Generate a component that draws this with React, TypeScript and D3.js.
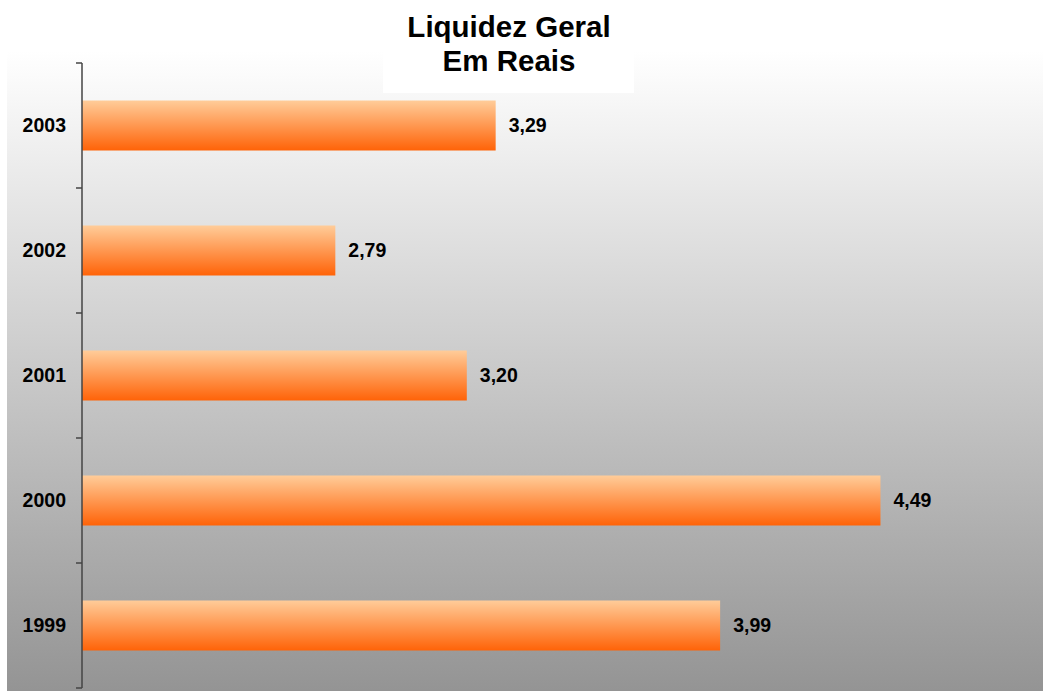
import React from "react";
import * as d3 from "d3";

const categories = ["2003", "2002", "2001", "2000", "1999"];
const values = [3.29, 2.79, 3.2, 4.49, 3.99];
const valueLabels = ["3,29", "2,79", "3,20", "4,49", "3,99"];
const titleLines = ["Liquidez Geral", "Em Reais"];

const W = 1043;
const H = 691;

export default function App() {
  const plot = { x: 7, y: 51, w: W - 7, h: H - 51 };
  const axisX = 82;
  const x = d3.scaleLinear().domain([2, 5]).range([axisX, 1044]);
  const y = d3.scaleBand().domain(categories).range([63, 688]).paddingInner(0.6).paddingOuter(0.3);
  const bandStep = y.step();
  const tickYs = d3.range(categories.length + 1).map((i) => 63 + i * bandStep);
  const font = "'Liberation Sans', Arial, sans-serif";

  return (
    <svg
      width={W}
      height={H}
      style={{ position: "absolute", left: 0, top: 0, display: "block" }}
      fontFamily={font}
    >
      <defs>
        <linearGradient id="bg" x1="0" y1="0" x2="0" y2="1">
          <stop offset="0%" stopColor="#ffffff" />
          <stop offset="100%" stopColor="#949494" />
        </linearGradient>
        <linearGradient id="bar" x1="0" y1="0" x2="0" y2="1">
          <stop offset="0%" stopColor="#ffcc99" />
          <stop offset="100%" stopColor="#ff6308" />
        </linearGradient>
      </defs>
      <rect x={0} y={0} width={W} height={H} fill="#ffffff" />
      <rect x={plot.x} y={plot.y} width={plot.w} height={plot.h} fill="url(#bg)" />
      <rect x={383} y={0} width={251} height={93} fill="#ffffff" />
      {titleLines.map((t, i) => (
        <text
          key={t}
          x={509}
          y={37 + i * 34}
          textAnchor="middle"
          fontSize={29.5}
          fontWeight="bold"
          fill="#000"
        >
          {t}
        </text>
      ))}
      {categories.map((c, i) => {
        const by = y(c)!;
        const bh = y.bandwidth();
        const xe = x(values[i]);
        return (
          <g key={c}>
            <rect x={axisX} y={by} width={xe - axisX} height={bh} fill="url(#bar)" />
            <text
              x={xe + 13}
              y={by + bh / 2}
              dy="0.35em"
              fontSize={19.5}
              fontWeight="bold"
              fill="#000"
            >
              {valueLabels[i]}
            </text>
            <text
              x={66}
              y={by + bh / 2}
              dy="0.35em"
              textAnchor="end"
              fontSize={19.5}
              fontWeight="bold"
              fill="#000"
            >
              {c}
            </text>
          </g>
        );
      })}
      <line x1={axisX} x2={axisX} y1={tickYs[0]} y2={tickYs[tickYs.length - 1]} stroke="#444" strokeWidth={1.5} />
      {tickYs.map((ty, i) => (
        <line key={i} x1={axisX - 6} x2={axisX} y1={ty} y2={ty} stroke="#444" strokeWidth={1.5} />
      ))}
    </svg>
  );
}
